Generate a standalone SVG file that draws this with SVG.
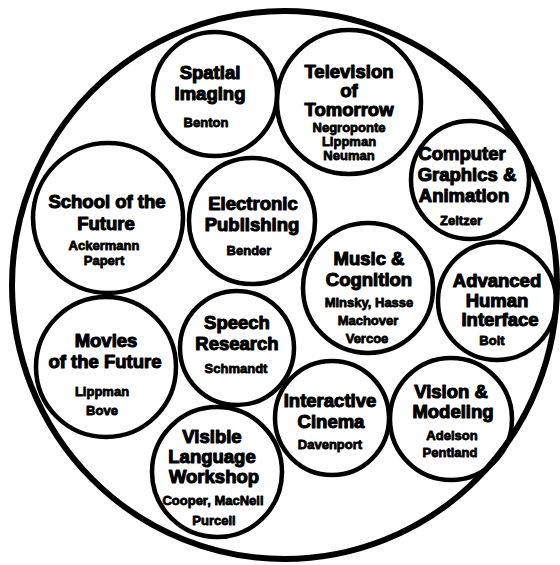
<svg xmlns="http://www.w3.org/2000/svg" width="560" height="565" viewBox="0 0 560 565">
<style>
.bg{fill:#fff}
.outer{fill:none;stroke:#000;stroke-width:6}
.node circle{fill:none;stroke:#000;stroke-width:4.5}
text{font-family:"Liberation Sans",Arial,sans-serif;font-weight:bold;text-anchor:middle;fill:#000;stroke:#000;stroke-linejoin:round}
.t{font-size:18.5px;stroke-width:1.1}
.n{font-size:13px;stroke-width:0.8}
</style>
<rect class="bg" x="0" y="0" width="560" height="565"/>
<ellipse class="outer" cx="284.5" cy="285" rx="272.5" ry="274"/>
<g id="connectors"/>
<g id="spatial-imaging" class="node">
<circle cx="215" cy="94" r="62"/>
<text class="t" x="210" y="79">Spatial</text>
<text class="t" x="210" y="100">Imaging</text>
<text class="n" x="206" y="127">Benton</text>
</g>
<g id="television-of-tomorrow" class="node">
<circle cx="349" cy="102" r="72"/>
<text class="t" x="349" y="78">Television</text>
<text class="t" x="349" y="97">of</text>
<text class="t" x="349" y="116">Tomorrow</text>
<text class="n" x="349" y="132">Negroponte</text>
<text class="n" x="349" y="146">Lippman</text>
<text class="n" x="349" y="160">Neuman</text>
</g>
<g id="computer-graphics" class="node">
<circle cx="470" cy="180" r="59"/>
<text class="t" x="462" y="160">Computer</text>
<text class="t" x="467" y="181">Graphics &amp;</text>
<text class="t" x="464" y="202">Animation</text>
<text class="n" x="461" y="225">Zeltzer</text>
</g>
<g id="school-of-the-future" class="node">
<circle cx="108" cy="218" r="75"/>
<text class="t" x="107" y="208">School of the</text>
<text class="t" x="106" y="230">Future</text>
<text class="n" x="104" y="250">Ackermann</text>
<text class="n" x="104" y="265">Papert</text>
</g>
<g id="electronic-publishing" class="node">
<circle cx="252" cy="221" r="63"/>
<text class="t" x="253" y="210">Electronic</text>
<text class="t" x="252" y="231">Publishing</text>
<text class="n" x="249" y="255">Bender</text>
</g>
<g id="music-cognition" class="node">
<circle cx="368" cy="288" r="65"/>
<text class="t" x="369" y="265">Music &amp;</text>
<text class="t" x="369" y="286">Cognition</text>
<text class="n" x="369" y="307">Minsky, Hasse</text>
<text class="n" x="368" y="325">Machover</text>
<text class="n" x="367" y="343">Vercoe</text>
</g>
<g id="advanced-human-interface" class="node">
<circle cx="497" cy="301" r="59"/>
<text class="t" x="497" y="287">Advanced</text>
<text class="t" x="497" y="307">Human</text>
<text class="t" x="500" y="326">Interface</text>
<text class="n" x="492" y="345">Bolt</text>
</g>
<g id="movies-of-the-future" class="node">
<circle cx="106" cy="367" r="70"/>
<text class="t" x="106" y="347">Movies</text>
<text class="t" x="105" y="368">of the Future</text>
<text class="n" x="102" y="396">Lippman</text>
<text class="n" x="102" y="415">Bove</text>
</g>
<g id="speech-research" class="node">
<circle cx="237" cy="348" r="57"/>
<text class="t" x="237" y="329">Speech</text>
<text class="t" x="237" y="350">Research</text>
<text class="n" x="236" y="373">Schmandt</text>
</g>
<g id="interactive-cinema" class="node">
<circle cx="332" cy="418" r="57"/>
<text class="t" x="330" y="407">Interactive</text>
<text class="t" x="331" y="428">Cinema</text>
<text class="n" x="330" y="449">Davenport</text>
</g>
<g id="vision-modeling" class="node">
<circle cx="451" cy="419" r="61"/>
<text class="t" x="451" y="398">Vision &amp;</text>
<text class="t" x="453" y="418">Modeling</text>
<text class="n" x="452" y="440">Adelson</text>
<text class="n" x="450" y="457">Pentland</text>
</g>
<g id="visible-language-workshop" class="node">
<circle cx="217" cy="472" r="65"/>
<text class="t" x="212" y="443">Visible</text>
<text class="t" x="212" y="463">Language</text>
<text class="t" x="214" y="483">Workshop</text>
<text class="n" x="213" y="505">Cooper, MacNeil</text>
<text class="n" x="214" y="525">Purcell</text>
</g>
</svg>
